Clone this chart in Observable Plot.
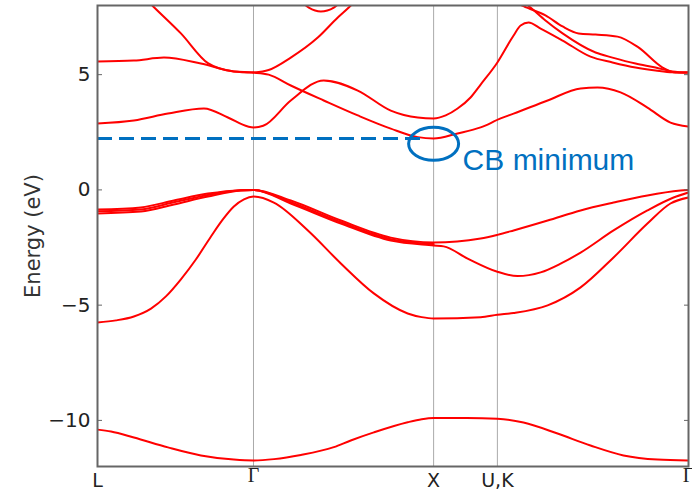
<!DOCTYPE html>
<html>
<head>
<meta charset="utf-8">
<script src="https://cdn.jsdelivr.net/npm/d3@7"></script>
<script src="https://cdn.jsdelivr.net/npm/@observablehq/plot@0.6"></script>
<style>
  html, body { margin: 0; padding: 0; background: #fff; }
  #chart svg { display: block; }
</style>
</head>
<body>
<div id="chart"></div>
<script>
// High-symmetry points along the k-path (path length units)
const kPoints = [0, 0.866, 1.866, 2.220, 3.281];
const kLabels = ["L", "Γ", "X", "U,K", "Γ"];
const yTicks = [5, 0, -5, -10];
const yTickLabels = ["5", "0", "−5", "−10"];

// Bands: [k, energy (eV)]
const bandV1 = [[0,-10.40],[0.075,-10.48],[0.202,-10.74],[0.391,-11.17],[0.574,-11.52],[0.757,-11.70],[0.866,-11.74],[0.98,-11.68],[1.129,-11.50],[1.312,-11.16],[1.406,-10.87],[1.534,-10.52],[1.722,-10.08],[1.80,-9.95],[1.866,-9.90],[2.05,-9.90],[2.220,-9.93],[2.365,-10.09],[2.554,-10.57],[2.737,-11.09],[2.920,-11.52],[3.109,-11.70],[3.281,-11.74]];
const bandV2 = [[0,-5.75],[0.103,-5.66],[0.202,-5.49],[0.297,-5.15],[0.380,-4.62],[0.463,-3.88],[0.546,-3.02],[0.630,-2.02],[0.696,-1.28],[0.757,-0.72],[0.813,-0.41],[0.866,-0.29],[0.979,-0.55],[1.168,-1.76],[1.351,-3.19],[1.534,-4.49],[1.722,-5.36],[1.80,-5.52],[1.866,-5.58],[2.127,-5.52],[2.220,-5.42],[2.310,-5.34],[2.499,-5.01],[2.682,-4.23],[2.865,-2.93],[3.053,-1.46],[3.181,-0.59],[3.281,-0.33]];
const bandV3 = [[0,-0.85],[0.241,-0.76],[0.424,-0.46],[0.613,-0.16],[0.796,-0.01],[0.866,0],[1.073,-0.46],[1.351,-1.33],[1.628,-2.07],[1.866,-2.28],[2.127,-2.11],[2.220,-1.95],[2.310,-1.76],[2.499,-1.33],[2.682,-0.89],[2.865,-0.55],[3.053,-0.24],[3.237,-0.03],[3.281,0]];
const bandV4 = [[0,-0.93],[0.241,-0.85],[0.424,-0.54],[0.613,-0.22],[0.796,-0.02],[0.866,0],[1.073,-0.53],[1.351,-1.40],[1.628,-2.14],[1.866,-2.35]];
const bandV5 = [[0,-1.02],[0.241,-0.94],[0.424,-0.63],[0.613,-0.29],[0.796,-0.03],[0.866,0],[1.073,-0.59],[1.351,-1.46],[1.628,-2.20],[1.866,-2.41],[1.922,-2.45],[2.055,-2.98],[2.220,-3.55],[2.332,-3.74],[2.460,-3.58],[2.571,-3.20],[2.682,-2.72],[2.865,-1.76],[3.053,-0.89],[3.198,-0.33],[3.281,-0.11]];
const bandC1 = [[0,2.88],[0.202,3.01],[0.391,3.31],[0.591,3.53],[0.724,3.14],[0.835,2.75],[0.866,2.71],[0.92,2.78],[1.073,3.88],[1.256,4.75],[1.445,4.31],[1.628,3.44],[1.778,3.14],[1.866,3.10],[1.933,3.23],[1.999,3.53],[2.071,4.01],[2.127,4.57],[2.220,5.53],[2.310,6.70],[2.349,7.13],[2.393,7.26],[2.460,7.00],[2.582,6.48],[2.737,5.78],[2.859,5.53],[2.987,5.31],[3.098,5.18],[3.192,5.10],[3.281,5.09]];
const bandC2 = [[0,5.57],[0.202,5.61],[0.369,5.74],[0.574,5.48],[0.757,5.14],[0.866,5.09],[0.95,5.0],[1.073,4.53],[1.256,3.88],[1.445,3.23],[1.628,2.66],[1.778,2.29],[1.866,2.23],[1.999,2.45],[2.127,2.71],[2.238,3.10],[2.310,3.31],[2.499,3.88],[2.682,4.40],[2.776,4.44],[2.904,4.23],[3.053,3.57],[3.181,2.92],[3.281,2.75]];
const bandC3 = [[0.22,8.66],[0.308,7.97],[0.463,6.79],[0.613,5.50],[0.757,5.14],[0.866,5.09]];
const bandC4 = [[0.866,5.09],[0.95,5.20],[1.073,5.74],[1.223,6.61],[1.334,7.48],[1.395,7.91],[1.45,8.35]];
const bandC5 = [[1.10,8.42],[1.173,7.91],[1.240,7.74],[1.312,7.91],[1.38,8.42]];
const bandC6 = [[2.255,8.45],[2.365,7.97],[2.487,7.57],[2.582,7.09],[2.671,6.79],[2.765,6.74],[2.887,6.65],[3.003,6.18],[3.137,5.31],[3.209,5.09],[3.281,5.09]];
const bandC7 = [[2.321,8.43],[2.404,7.91],[2.487,7.35],[2.582,6.79],[2.765,5.96],[2.859,5.74],[2.987,5.48],[3.098,5.31],[3.192,5.14],[3.281,5.09]];

const bands = [bandV1, bandV2, bandV3, bandV4, bandV5, bandC1, bandC2, bandC3, bandC4, bandC5, bandC6, bandC7];

// Annotation values
const cbMinLine = [{E: 2.23, k0: 0, k1: 1.80}];
const cbEllipse = [{k: 1.866, E: 2.0}];
const cbLabel = [{k: 2.027, E: 1.27, text: "CB minimum"}];

const blue = "#0070c0";
const ellipseSymbol = {
  draw(ctx) {
    const rx = 25, ry = 16.5, c = 0.5523;
    ctx.moveTo(rx, 0);
    ctx.bezierCurveTo(rx, ry * c, rx * c, ry, 0, ry);
    ctx.bezierCurveTo(-rx * c, ry, -rx, ry * c, -rx, 0);
    ctx.bezierCurveTo(-rx, -ry * c, -rx * c, -ry, 0, -ry);
    ctx.bezierCurveTo(rx * c, -ry, rx, -ry * c, rx, 0);
    ctx.closePath();
  }
};

const sansPts = kPoints.map((k, i) => ({k, label: kLabels[i]})).filter(d => d.label !== "Γ");
const gammaPts = kPoints.map((k, i) => ({k, label: kLabels[i]})).filter(d => d.label === "Γ");

const chart = Plot.plot({
  width: 692,
  height: 492,
  marginLeft: 97,
  marginRight: 4,
  marginTop: 5,
  marginBottom: 26,
  style: {fontFamily: "DejaVu Sans", background: "#fff", color: "#222"},
  x: {domain: [0, 3.281], axis: null},
  y: {domain: [-12, 8], axis: null},
  marks: [
    Plot.ruleX(kPoints.slice(1, 4), {stroke: "#aaa", strokeWidth: 1}),
    ...bands.map(b => Plot.line(b, {x: d => d[0], y: d => d[1], stroke: "#ff0000", strokeWidth: 2, curve: "monotone-x", clip: true})),
    Plot.ruleY(cbMinLine, {y: "E", x1: "k0", x2: "k1", stroke: blue, strokeWidth: 3, strokeDasharray: "15,7"}),
    Plot.dot(cbEllipse, {x: "k", y: "E", symbol: ellipseSymbol, stroke: blue, fill: "none", strokeWidth: 3}),
    Plot.text(cbLabel, {x: "k", y: "E", text: "text", textAnchor: "start", fill: blue, fontSize: 30, fontFamily: "Liberation Sans"}),
    Plot.frame({stroke: "#666", strokeWidth: 2}),
    Plot.axisY(yTicks, {anchor: "left", tickSize: 0, tickPadding: 7, fontSize: 20, tickFormat: d => yTickLabels[yTicks.indexOf(d)], label: null, fill: "#222"}),
    Plot.axisY(yTicks, {anchor: "left", tickSize: 5, dx: 5, fill: "none", stroke: "#666", label: null}),
    Plot.axisY(yTicks, {anchor: "right", tickSize: 5, dx: -5, fill: "none", stroke: "#666", label: null}),
    Plot.text(sansPts, {x: "k", text: "label", frameAnchor: "bottom", lineAnchor: "middle", dy: 14, fontSize: 19, fill: "#222"}),
    Plot.text(gammaPts, {x: "k", text: "label", frameAnchor: "bottom", lineAnchor: "middle", dy: 9, fontSize: 20, fontFamily: "Liberation Serif", fill: "#222"}),
    Plot.text(["Energy (eV)"], {frameAnchor: "left", rotate: -90, dx: -64, textAnchor: "middle", fontSize: 21, fill: "#333"})
  ]
});
document.getElementById("chart").appendChild(chart);
</script>
</body>
</html>
